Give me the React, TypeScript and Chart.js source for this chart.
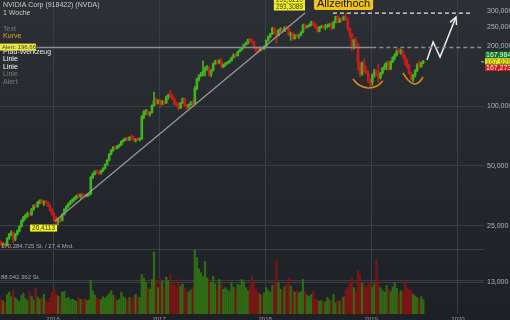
import { useEffect, useRef } from 'react';
import { Chart, registerables } from 'chart.js';
Chart.register(...registerables);

// Weekly candles [open, high, low, close], week 0 = early July 2015
const ohlc2015: number[][] = [
  [20.6, 21.0, 19.9, 20.1], [20.1, 20.6, 19.7, 20.3], [20.3, 20.5, 19.6, 19.9], [19.9, 21.8, 19.8, 21.6],
  [21.6, 22.9, 21.4, 22.6], [22.6, 23.6, 22.3, 23.2], [23.2, 23.3, 20.6, 21.4], [21.4, 22.9, 21.0, 22.7],
  [22.7, 23.8, 22.4, 23.6], [23.6, 25.0, 23.3, 24.8], [24.8, 26.8, 24.6, 26.5], [26.5, 27.9, 26.1, 27.6],
  [27.6, 28.6, 27.0, 28.3], [28.3, 29.4, 27.6, 28.9], [28.9, 29.2, 27.9, 28.4], [28.4, 30.6, 28.2, 30.3],
  [30.3, 31.9, 29.9, 31.6], [31.6, 32.4, 30.8, 31.2], [31.2, 33.2, 31.0, 32.9], [32.9, 33.8, 32.3, 33.5],
  [33.5, 34.0, 32.2, 32.6], [32.6, 33.4, 31.6, 33.1], [33.1, 33.6, 32.4, 32.8], [32.8, 33.0, 31.2, 31.6],
  [31.6, 32.0, 29.6, 30.0], [30.0, 30.4, 28.2, 28.6],
];
const ohlc2016: number[][] = [
  [28.6, 29.2, 26.4, 27.0], [27.0, 27.8, 25.6, 26.2], [26.2, 27.4, 25.3, 26.9], [26.9, 27.6, 26.0, 26.6],
  [26.6, 28.8, 26.4, 28.5], [28.5, 30.5, 28.3, 30.2], [30.2, 31.6, 29.8, 31.3], [31.3, 32.6, 30.9, 32.2],
  [32.2, 33.5, 31.8, 33.1], [33.1, 34.2, 32.6, 33.8], [33.8, 35.0, 33.3, 34.6], [34.6, 35.8, 34.0, 35.4],
  [35.4, 36.4, 34.6, 35.0], [35.0, 36.2, 34.4, 35.9], [35.9, 36.6, 35.0, 35.5], [35.5, 36.0, 34.8, 35.3],
  [35.3, 36.2, 34.9, 35.8], [35.8, 36.4, 35.2, 36.0], [36.0, 44.4, 35.8, 43.8], [43.8, 46.2, 43.2, 45.6],
  [45.6, 47.4, 45.0, 46.9], [46.9, 47.8, 45.8, 46.3], [46.3, 47.2, 45.3, 46.0], [46.0, 47.6, 45.4, 47.2],
  [47.2, 49.0, 46.8, 48.6], [48.6, 51.2, 48.2, 50.8], [50.8, 53.8, 50.4, 53.4], [53.4, 57.6, 53.0, 57.2],
  [57.2, 60.4, 56.8, 59.8], [59.8, 62.6, 59.2, 62.0], [62.0, 63.0, 60.4, 61.2], [61.2, 63.4, 60.8, 62.8],
  [62.8, 64.4, 62.0, 63.8], [63.8, 67.0, 63.4, 66.5], [66.5, 68.2, 65.8, 67.6], [67.6, 69.3, 67.0, 68.7],
  [68.7, 69.5, 66.9, 67.5], [67.5, 70.2, 67.1, 69.7], [69.7, 71.9, 68.3, 69.0], [69.0, 70.5, 66.4, 67.3],
  [67.3, 68.6, 65.8, 68.1], [68.1, 69.4, 66.9, 67.6], [67.6, 69.2, 66.6, 68.4], [68.4, 89.8, 68.0, 88.4],
  [88.4, 94.8, 86.2, 93.6], [93.6, 96.2, 90.4, 94.3], [94.3, 95.6, 89.6, 91.2], [91.2, 93.5, 88.8, 92.8],
  [92.8, 101.5, 92.0, 100.6], [100.6, 117.4, 99.8, 106.5], [106.5, 110.0, 101.6, 103.2], [103.2, 108.0, 102.4, 106.7],
];
const ohlc2017: number[][] = [
  [106.7, 108.5, 98.8, 103.0], [103.0, 106.6, 101.2, 105.2], [105.2, 107.0, 101.8, 103.6], [103.6, 112.4, 103.0, 111.5],
  [111.5, 114.8, 108.2, 113.6], [113.6, 119.9, 110.4, 112.8], [112.8, 114.6, 106.8, 108.4], [108.4, 110.2, 101.6, 102.4],
  [102.4, 104.8, 99.6, 100.8], [100.8, 103.6, 95.2, 97.6], [97.6, 104.2, 97.0, 103.6], [103.6, 109.8, 103.0, 108.9],
  [108.9, 109.6, 99.4, 100.6], [100.6, 101.8, 96.2, 98.8], [98.8, 102.4, 97.6, 101.4], [101.4, 105.6, 100.8, 104.2],
  [104.2, 106.2, 100.6, 102.9], [102.9, 125.6, 102.2, 122.1], [122.1, 138.0, 120.6, 136.5], [136.5, 143.8, 133.2, 141.8],
  [141.8, 147.6, 140.6, 144.6], [144.6, 168.5, 141.4, 149.6], [149.6, 157.6, 141.6, 153.8], [153.8, 160.0, 151.6, 155.0],
  [155.0, 158.6, 141.2, 144.6], [144.6, 152.4, 140.6, 150.8], [150.8, 164.6, 150.2, 163.9], [163.9, 169.9, 162.0, 168.6],
  [168.6, 170.4, 161.8, 165.4], [165.4, 171.2, 163.2, 168.8], [168.8, 173.4, 155.4, 157.2], [157.2, 163.0, 155.6, 161.4],
  [161.4, 165.6, 158.2, 163.8], [163.8, 167.8, 162.4, 165.6], [165.6, 170.6, 164.2, 168.9], [168.9, 176.2, 168.0, 175.6],
  [175.6, 183.4, 174.4, 180.2], [180.2, 182.6, 175.8, 178.8], [178.8, 188.6, 178.2, 187.6], [187.6, 193.4, 186.2, 191.8],
  [191.8, 197.6, 190.2, 196.2], [196.2, 204.6, 195.4, 203.6], [203.6, 209.4, 201.8, 206.4], [206.4, 217.0, 205.2, 215.8],
  [215.8, 218.6, 209.4, 212.6], [212.6, 216.8, 207.2, 210.4], [210.4, 211.6, 193.6, 197.8], [197.8, 199.4, 186.6, 191.2],
  [191.2, 193.8, 184.8, 189.6], [189.6, 198.2, 188.4, 196.2], [196.2, 198.4, 190.2, 193.5], [193.5, 200.8, 192.4, 199.6],
];
const ohlc2018: number[][] = [
  [199.6, 215.0, 198.6, 213.8], [213.8, 225.0, 212.0, 222.6], [222.6, 232.0, 219.6, 230.4], [230.4, 249.2, 228.6, 245.8],
  [245.8, 247.6, 232.2, 236.4], [236.4, 240.6, 207.0, 226.4], [226.4, 243.2, 224.6, 240.8], [240.8, 247.8, 236.6, 242.6],
  [242.6, 245.0, 232.4, 237.6], [237.6, 250.6, 236.6, 246.8], [246.8, 252.6, 242.2, 244.6], [244.6, 246.2, 225.0, 227.4],
  [227.4, 235.6, 214.0, 231.6], [231.6, 232.8, 213.8, 217.6], [217.6, 229.6, 217.0, 225.4], [225.4, 230.8, 221.6, 224.2],
  [224.2, 228.6, 218.6, 226.8], [226.8, 236.4, 225.4, 234.8], [234.8, 258.0, 233.2, 254.6], [254.6, 257.8, 243.2, 248.6],
  [248.6, 254.6, 246.4, 251.2], [251.2, 258.6, 249.8, 253.8], [253.8, 267.0, 252.6, 264.2], [264.2, 265.4, 254.8, 258.4],
  [258.4, 262.2, 245.6, 249.0], [249.0, 252.6, 234.4, 237.2], [237.2, 251.0, 236.2, 248.6], [248.6, 254.6, 246.2, 251.4],
  [251.4, 256.4, 244.8, 249.2], [249.2, 256.8, 241.6, 249.8], [249.8, 258.2, 247.4, 253.6], [253.6, 260.6, 250.4, 255.4],
  [255.4, 263.6, 240.4, 245.8], [245.8, 266.6, 244.8, 262.4], [262.4, 283.2, 261.6, 281.4], [281.4, 284.6, 261.6, 264.0],
  [264.0, 277.0, 262.2, 272.6], [272.6, 277.6, 266.8, 271.2], [271.2, 283.4, 270.0, 281.0], [281.0, 292.8, 268.6, 274.2],
  [274.2, 276.4, 238.8, 245.6], [245.6, 247.4, 221.2, 229.6], [229.6, 232.0, 190.2, 201.0], [201.0, 216.4, 193.6, 213.8],
  [213.8, 221.4, 198.4, 204.6], [204.6, 206.8, 151.4, 163.8], [163.8, 166.2, 140.6, 144.7], [144.7, 166.6, 142.4, 163.6],
  [163.6, 172.4, 148.2, 150.8], [150.8, 158.4, 144.2, 146.6], [146.6, 150.2, 131.4, 133.4], [133.4, 137.8, 124.5, 131.6],
];
const ohlc2019: number[][] = [
  [131.6, 145.0, 127.0, 143.2], [143.2, 153.0, 139.0, 149.8], [149.8, 151.6, 141.4, 144.6], [144.6, 162.0, 131.0, 138.4],
  [138.4, 147.6, 136.6, 146.2], [146.2, 156.4, 144.8, 155.2], [155.2, 163.4, 151.6, 158.6], [158.6, 166.8, 152.4, 164.2],
  [164.2, 169.4, 150.4, 153.2], [153.2, 168.8, 152.6, 166.4], [166.4, 176.8, 165.2, 175.6], [175.6, 183.6, 170.4, 180.6],
  [180.6, 191.6, 178.2, 189.4], [189.4, 194.8, 183.6, 186.2], [186.2, 193.2, 181.6, 188.8], [188.8, 190.6, 175.2, 178.4],
  [178.4, 180.2, 160.6, 168.2], [168.2, 172.4, 154.4, 159.6], [159.6, 161.8, 144.2, 146.4], [146.4, 148.6, 134.8, 136.2],
  [136.2, 144.2, 132.6, 142.8], [142.8, 152.4, 140.2, 150.6], [150.6, 163.4, 148.8, 161.2], [161.2, 168.8, 154.8, 157.4],
  [157.4, 166.2, 156.8, 165.4], [165.4, 169.6, 163.2, 167.6],
];

// Weekly volume, million shares
const vol2015 = [40, 35, 30, 52, 58, 46, 62, 44, 38, 33, 49, 55, 41, 36, 60, 47, 38, 70, 45, 39, 44, 52, 36, 30, 42, 58];
const vol2016 = [66, 54, 48, 44, 58, 60, 42, 45, 38, 40, 36, 33, 44, 39, 37, 42, 36, 38, 90, 62,
  50, 44, 40, 38, 46, 42, 48, 54, 62, 50, 44, 36, 40, 58, 46, 42, 38, 44, 40, 48,
  52, 46, 44, 105, 96, 84, 70, 66, 92, 165, 88, 70];
const vol2017 = [96, 88, 72, 98, 90, 104, 84, 78, 70, 92, 74, 80, 68, 62, 58, 64, 70, 170, 150, 120,
  110, 100, 140, 96, 88, 84, 100, 80, 72, 92, 78, 66, 70, 64, 60, 84, 72, 66, 80, 76,
  92, 86, 70, 62, 74, 100, 82, 64, 58, 52, 48, 56];
const vol2018 = [70, 62, 58, 76, 80, 143, 84, 66, 60, 72, 78, 96, 74, 64, 58, 62, 56, 60, 92, 58,
  50, 46, 52, 60, 40, 38, 34, 36, 30, 32, 44, 38, 34, 52, 30, 36, 34, 42, 46, 64,
  72, 84, 96, 70, 60, 116, 104, 82, 76, 70, 78, 86];
const vol2019 = [72, 80, 143, 92, 70, 62, 58, 76, 66, 60, 72, 84, 68, 54, 62, 58, 88, 70, 64, 62,
  52, 48, 44, 40, 46, 38];

const priceTicks = [13, 25, 50, 100, 200, 250, 300];
const priceGrid = [13, 25, 50, 100];
const yearTicks = [25.5, 77.5, 129.5, 181.5, 224];
const yearLabels = ['2016', '2017', '2018', '2019', '2020'];
const volumeMarks = [170.284725, 88.042362];
const volumeMarkLabels = ['170.284.725 St. / 27,4 Mrd.', '88.042.362 St.'];

const trendLine = [{ x: 26.5, y: 26.4113 }, { x: 149, y: 293.3089 }];
const athLine = [{ x: 162.7, y: 292.76 }, { x: 230.9, y: 292.76 }];
const alertLevel = 196.666;
const alertSolid = [{ x: -0.5, y: alertLevel }, { x: 182, y: alertLevel }];
const alertDashed = [{ x: 182, y: alertLevel }, { x: 236.3, y: alertLevel }];
const arc1 = [{ x: 172.5, y: 136.7 }, { x: 175.5, y: 127.5 }, { x: 179.9, y: 123.2 }, { x: 184.3, y: 126.0 }, { x: 187.2, y: 133.6 }];
const arc2 = [{ x: 197.05, y: 146.5 }, { x: 199.5, y: 135.1 }, { x: 202.4, y: 129.0 }, { x: 204.9, y: 132.0 }, { x: 206.9, y: 139.9 }];
const arrowPath = [{ x: 208.8, y: 170.2 }, { x: 211.8, y: 209.7 }, { x: 215.2, y: 176.3 }, { x: 223.0, y: 280.1 }];
const lastPrices = ['167,984', '167,629', '167,273'];
const lastPrice = 167.629;

const FONT = '"Liberation Sans", Arial, sans-serif';

export default function App() {
  const ref = useRef<HTMLCanvasElement | null>(null);

  useEffect(() => {
    const candles = [...ohlc2015, ...ohlc2016, ...ohlc2017, ...ohlc2018, ...ohlc2019];
    const volumes = [...vol2015, ...vol2016, ...vol2017, ...vol2018, ...vol2019];
    const up = candles.map((c) => c[3] >= c[0]);
    const candleCol = up.map((u) => (u ? '#3fb41e' : '#c81c1c'));
    const volCol = up.map((u) => (u ? '#2f6b14' : '#781616'));

    const lineDs = (data: any, color: string, width: number, extra: any = {}) => ({
      type: 'line',
      data,
      borderColor: color,
      borderWidth: width,
      pointRadius: 0,
      fill: false,
      yAxisID: 'y',
      order: 1,
      ...extra,
    });

    const noPad = (s: any) => {
      s.paddingTop = 0;
      s.paddingBottom = 0;
      s.paddingLeft = 0;
      s.paddingRight = 0;
    };

    const overlay = {
      id: 'overlay',
      beforeDraw(chart: any) {
        const { ctx, width, height } = chart;
        const g = ctx.createLinearGradient(0, 0, 0, height);
        g.addColorStop(0, '#2c3035');
        g.addColorStop(1, '#1d2024');
        ctx.save();
        ctx.fillStyle = g;
        ctx.fillRect(0, 0, width, height);
        ctx.restore();
      },
      afterDatasetsDraw(chart: any) {
        const meta = chart.getDatasetMeta(chart.data.datasets.length - 1);
        const pts = meta.data;
        const a = pts[pts.length - 2];
        const b = pts[pts.length - 1];
        const ang = Math.atan2(b.y - a.y, b.x - a.x);
        const { ctx } = chart;
        ctx.save();
        ctx.strokeStyle = '#eeeeee';
        ctx.lineWidth = 1.5;
        ctx.beginPath();
        ctx.moveTo(b.x + 8 * Math.cos(ang + Math.PI - 0.45), b.y + 8 * Math.sin(ang + Math.PI - 0.45));
        ctx.lineTo(b.x, b.y);
        ctx.lineTo(b.x + 8 * Math.cos(ang + Math.PI + 0.45), b.y + 8 * Math.sin(ang + Math.PI + 0.45));
        ctx.stroke();
        ctx.restore();
      },
      afterDraw(chart: any) {
        const { ctx } = chart;
        const y = chart.scales.y;
        const x = chart.scales.x;
        const yv = chart.scales.yv;
        ctx.save();
        ctx.textBaseline = 'middle';
        ctx.textAlign = 'left';
        ctx.font = `7px ${FONT}`;
        const items: [string, number, string][] = [
          ['NVIDIA Corp (918422) (NVDA)', 5, '#c8c8c8'],
          ['1 Woche', 13, '#c8c8c8'],
          ['Text', 29, '#7a7a7a'],
          ['Kurve', 36, '#e0a030'],
          ['Pfad-Werkzeug', 52, '#e6e6e6'],
          ['Linie', 59, '#ffffff'],
          ['Linie', 67, '#ffffff'],
          ['Linie', 74, '#7a7a7a'],
          ['Alert', 82, '#7a7a7a'],
        ];
        items.forEach(([t, ty, c]) => {
          ctx.fillStyle = c;
          ctx.fillText(t, 3, ty);
        });
        const ay = y.getPixelForValue(alertLevel);
        ctx.fillStyle = '#e8e840';
        ctx.fillRect(0, ay - 4, 36, 7);
        ctx.fillStyle = '#444';
        ctx.font = `6px ${FONT}`;
        ctx.fillText('Alert: 196,666', 2, ay - 0.5);

        const yl = (txt: string, px: number, py: number) => {
          ctx.font = `6.5px ${FONT}`;
          const w = ctx.measureText(txt).width + 4;
          ctx.fillStyle = '#f2f21e';
          ctx.fillRect(px - w, py - 3.5, w, 7);
          ctx.fillStyle = '#333';
          ctx.fillText(txt, px - w + 2, py);
        };
        const t0x = x.getPixelForValue(trendLine[0].x);
        const t0y = y.getPixelForValue(trendLine[0].y);
        yl('26,4113', t0x + 2, t0y + 7);
        const t1x = x.getPixelForValue(trendLine[1].x);
        const t1y = y.getPixelForValue(trendLine[1].y);
        yl('293,3089', t1x, t1y - 6);
        yl('291,6210', t1x, t1y - 13);

        ctx.font = `11px ${FONT}`;
        const at = 'Allzeithoch';
        const aw = ctx.measureText(at).width + 6;
        const bx = x.getPixelForValue(athLine[0].x) - 19;
        ctx.fillStyle = '#f0c419';
        ctx.beginPath();
        ctx.roundRect(bx, -4, aw, 14, 2);
        ctx.fill();
        ctx.fillStyle = '#111';
        ctx.fillText(at, bx + 3, 4);

        const ly = y.getPixelForValue(lastPrice);
        const tags: [string, string, string, number][] = [
          [lastPrices[0], '#11792a', '#e8ffe8', ly - 6.5],
          [lastPrices[1], '#e3e31a', '#77771a', ly],
          [lastPrices[2], '#d11818', '#ffffff', ly + 6.5],
        ];
        ctx.font = `7px ${FONT}`;
        tags.forEach(([t, bg, fg, ty]) => {
          ctx.fillStyle = bg;
          ctx.fillRect(485, ty - 3.2, 25, 6.4);
          ctx.fillStyle = fg;
          ctx.fillText(t, 486, ty + 0.3);
        });
        ctx.strokeStyle = '#cccccc';
        ctx.lineWidth = 1;
        ctx.beginPath();
        ctx.moveTo(481, ly + 0.5);
        ctx.lineTo(484, ly + 0.5);
        ctx.stroke();

        ctx.font = `6px ${FONT}`;
        ctx.fillStyle = '#a8a8a8';
        volumeMarks.forEach((v, k) => {
          const vy = yv.getPixelForValue(v);
          ctx.fillText(volumeMarkLabels[k], 1, vy - 3.5);
        });
        ctx.restore();
      },
    };

    const chart = new Chart(ref.current as HTMLCanvasElement, {
      type: 'bar',
      data: {
        datasets: [
          {
            type: 'bar',
            data: volumes.map((v, i) => ({ x: i, y: v })),
            backgroundColor: volCol,
            barThickness: 1.6,
            grouped: false,
            yAxisID: 'yv',
            order: 10,
          },
          {
            type: 'bar',
            data: candles.map((c, i) => ({ x: i, y: [c[2], c[1]] })),
            backgroundColor: candleCol,
            barThickness: 1,
            grouped: false,
            yAxisID: 'y',
            order: 6,
          },
          {
            type: 'bar',
            data: candles.map((c, i) => ({ x: i, y: [c[0], c[3]] })),
            backgroundColor: candleCol,
            barThickness: 2,
            minBarLength: 1,
            grouped: false,
            yAxisID: 'y',
            order: 5,
          },
          lineDs(trendLine, '#9a9a9a', 1.2),
          lineDs(alertSolid, '#8c8c8c', 1.5),
          lineDs(alertDashed, '#8c8c8c', 1.5, { borderDash: [4, 3] }),
          lineDs(athLine, '#e6e6e6', 1.2, { borderDash: [4, 3] }),
          lineDs(arc1, '#d98c12', 1.6, { tension: 0.4 }),
          lineDs(arc2, '#d98c12', 1.6, { tension: 0.4 }),
          lineDs(arrowPath, '#eeeeee', 1.5),
        ] as any,
      },
      options: {
        responsive: false,
        animation: false,
        devicePixelRatio: 1,
        events: [],
        layout: { padding: 0 },
        plugins: { legend: { display: false }, tooltip: { enabled: false } },
        scales: {
          x: {
            type: 'linear',
            min: -0.5,
            max: 236.75,
            offset: false,
            grid: { color: '#3a3e43', drawTicks: false, offset: false },
            border: { display: false },
            afterBuildTicks: (s: any) => {
              s.ticks = yearTicks.map((v) => ({ value: v }));
            },
            afterFit: (s: any) => {
              s.height = 6;
              noPad(s);
            },
            ticks: {
              autoSkip: false,
              maxRotation: 0,
              padding: 2,
              color: '#9a9a9a',
              font: { size: 6, family: FONT },
              callback: (v: any) => {
                const k = yearTicks.indexOf(Number(v));
                return k >= 0 ? yearLabels[k] : '';
              },
            },
          },
          y: {
            type: 'logarithmic',
            position: 'right',
            min: 9.01,
            max: 341,
            grid: {
              drawTicks: false,
              color: (c: any) => (c.tick && priceGrid.includes(c.tick.value) ? '#3a3e43' : 'rgba(0,0,0,0)'),
            },
            border: { display: false },
            afterBuildTicks: (s: any) => {
              s.ticks = priceTicks.map((v) => ({ value: v }));
            },
            afterFit: (s: any) => {
              s.width = 26;
              noPad(s);
            },
            ticks: {
              padding: 3,
              color: '#b4b4b4',
              font: { size: 7, family: FONT },
              callback: (v: any) => Number(v).toFixed(3).replace('.', ','),
            },
          },
          yv: {
            type: 'linear',
            position: 'left',
            min: 0,
            max: 835.4,
            grid: { color: '#3a3e43', drawTicks: false },
            border: { display: false },
            afterBuildTicks: (s: any) => {
              s.ticks = volumeMarks.map((v) => ({ value: v }));
            },
            afterFit: (s: any) => {
              s.width = 0;
              noPad(s);
            },
            ticks: { display: false },
          },
        },
      } as any,
      plugins: [overlay],
    });
    return () => chart.destroy();
  }, []);

  return (
    <div style={{ position: 'fixed', left: 0, top: 0, width: 510, height: 320 }}>
      <canvas ref={ref} width={510} height={320} style={{ display: 'block' }} />
    </div>
  );
}
